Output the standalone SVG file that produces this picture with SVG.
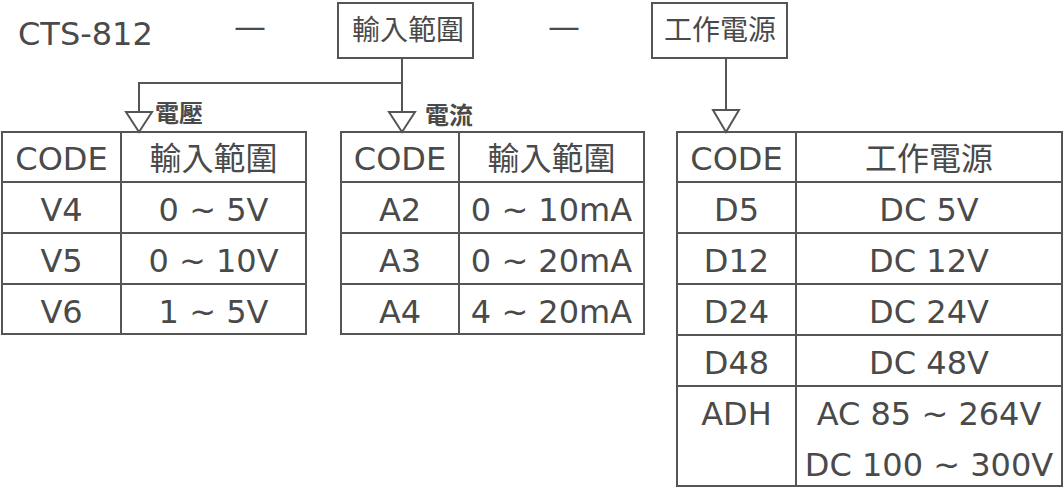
<svg xmlns="http://www.w3.org/2000/svg" width="1064" height="488" viewBox="0 0 1064 488">
<defs>
<style>
text{font-family:"DejaVu Sans","Noto Sans CJK TC",sans-serif;fill:#4a4a4a;}
.t{font-size:32px;text-anchor:middle;}
.c{font-size:32px;text-anchor:middle;font-family:"Noto Sans CJK TC",sans-serif;}
.b{font-size:28px;text-anchor:middle;font-family:"Noto Sans CJK TC",sans-serif;}
.l{font-size:24px;font-family:"Noto Sans CJK TC",sans-serif;font-weight:bold;}
.ln{stroke:#555;stroke-width:2;fill:none;}
.box{stroke:#555;stroke-width:2;fill:#fff;}
.arr{stroke:#555;stroke-width:2;fill:#fff;stroke-linejoin:miter;}
</style>
</defs>
<rect width="1064" height="488" fill="#fff"/>
<g id="title">
<text x="18" y="45" style="font-size:32px">CTS-812</text>
<text x="250" y="38" class="t">—</text>
<text x="564" y="38" class="t">—</text>
</g>
<g id="box-input">
<rect class="box" x="338" y="3" width="135" height="55"/>
<text x="408" y="40" class="b">輸入範圍</text>
</g>
<g id="box-power">
<rect class="box" x="652" y="3" width="135" height="55"/>
<text x="720" y="40" class="b">工作電源</text>
</g>
<g id="connectors">
<path class="ln" d="M402 58 V112 M402 83 H139 V112 M726 58 V110"/>
<polygon class="arr" points="126,112 152,112 139,132"/>
<polygon class="arr" points="389,112 415,112 402,132"/>
<polygon class="arr" points="713,110 739,110 726,132"/>
<text x="155" y="122" class="l">電壓</text>
<text x="425" y="124" class="l">電流</text>
</g>
<g id="table-voltage">
<rect class="ln" x="2" y="132" width="304" height="202"/>
<path class="ln" d="M121 132 V334 M2 182 H306 M2 233 H306 M2 284 H306"/>
<text x="61.5" y="170" class="t">CODE</text>
<text x="213.5" y="170" class="c">輸入範圍</text>
<text x="61.5" y="221" class="t">V4</text>
<text x="213.5" y="221" class="t">0 ~ 5V</text>
<text x="61.5" y="272" class="t">V5</text>
<text x="213.5" y="272" class="t">0 ~ 10V</text>
<text x="61.5" y="323" class="t">V6</text>
<text x="213.5" y="323" class="t">1 ~ 5V</text>
</g>
<g id="table-current">
<rect class="ln" x="341" y="132" width="303" height="202"/>
<path class="ln" d="M459 132 V334 M341 182 H644 M341 233 H644 M341 284 H644"/>
<text x="400" y="170" class="t">CODE</text>
<text x="551.5" y="170" class="c">輸入範圍</text>
<text x="400" y="221" class="t">A2</text>
<text x="551.5" y="221" class="t">0 ~ 10mA</text>
<text x="400" y="272" class="t">A3</text>
<text x="551.5" y="272" class="t">0 ~ 20mA</text>
<text x="400" y="323" class="t">A4</text>
<text x="551.5" y="323" class="t">4 ~ 20mA</text>
</g>
<g id="table-power">
<rect class="ln" x="677" y="132" width="385" height="354"/>
<path class="ln" d="M796 132 V486 M677 182 H1062 M677 233 H1062 M677 284 H1062 M677 335 H1062 M677 386 H1062"/>
<text x="736.5" y="170" class="t">CODE</text>
<text x="929" y="170" class="c">工作電源</text>
<text x="736.5" y="221" class="t">D5</text>
<text x="929" y="221" class="t">DC 5V</text>
<text x="736.5" y="272" class="t">D12</text>
<text x="929" y="272" class="t">DC 12V</text>
<text x="736.5" y="323" class="t">D24</text>
<text x="929" y="323" class="t">DC 24V</text>
<text x="736.5" y="374" class="t">D48</text>
<text x="929" y="374" class="t">DC 48V</text>
<text x="736.5" y="425" class="t">ADH</text>
<text x="929" y="425" class="t">AC 85 ~ 264V</text>
<text x="929" y="476" class="t">DC 100 ~ 300V</text>
</g>
</svg>
